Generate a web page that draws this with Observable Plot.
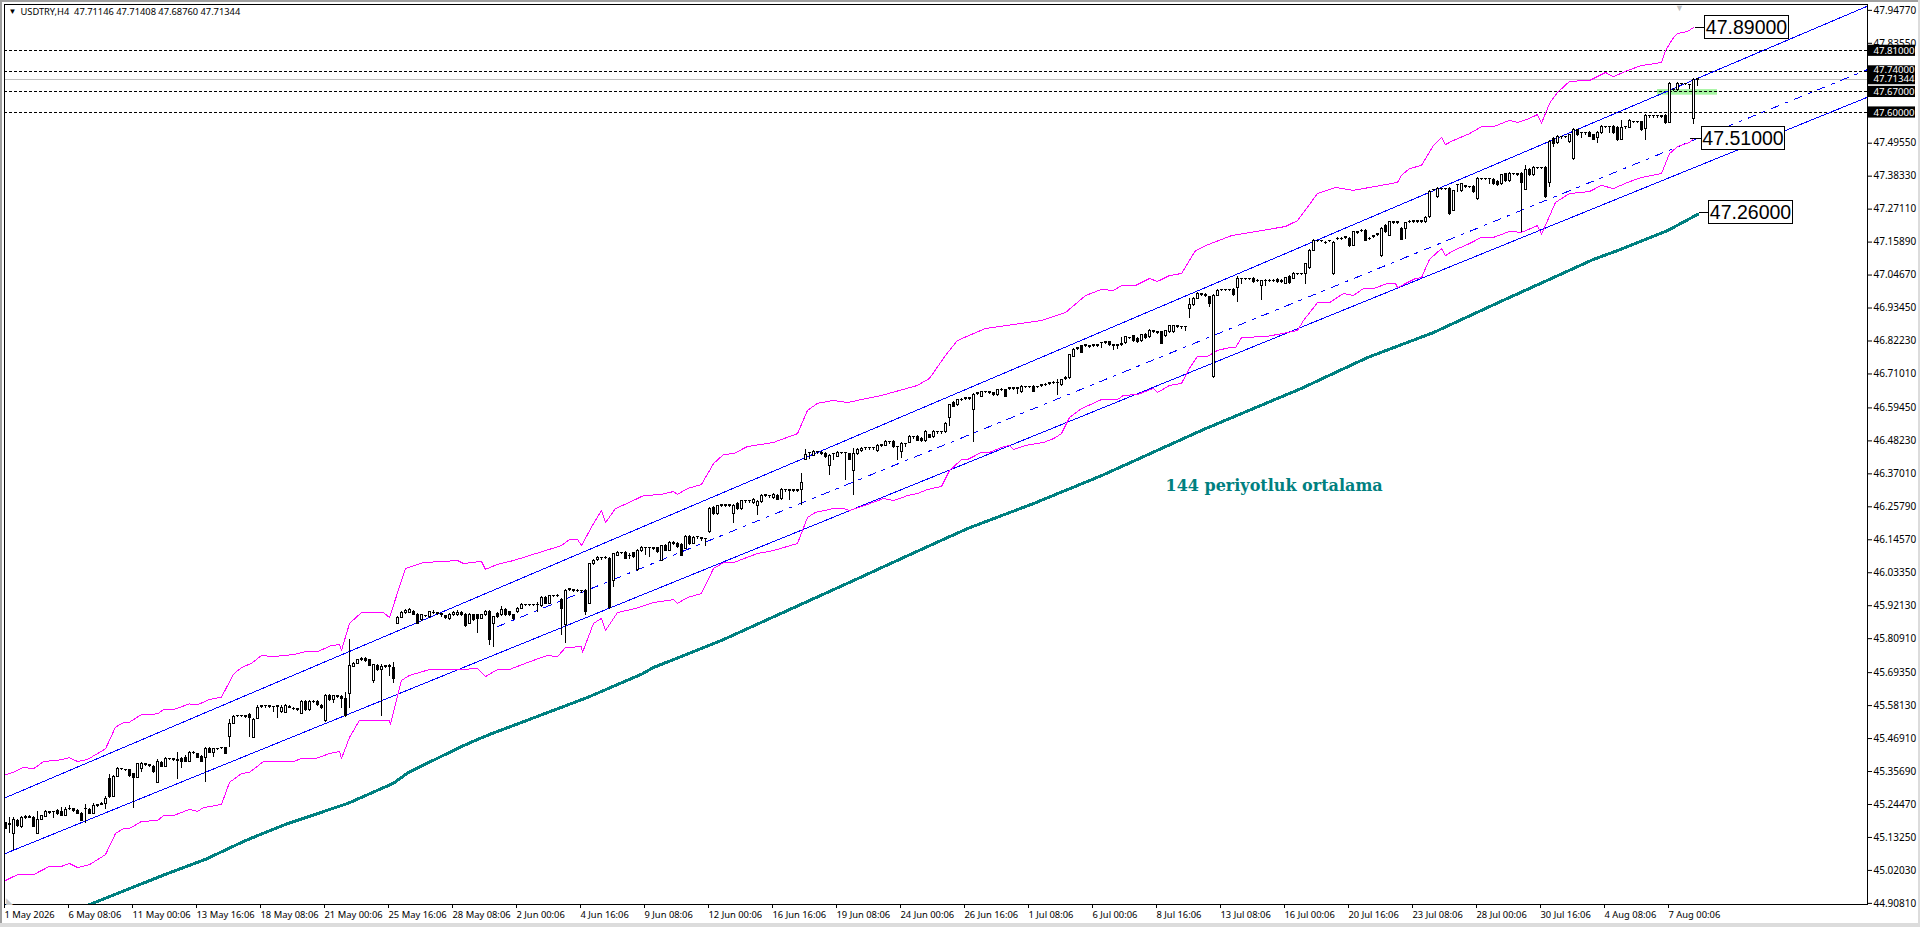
<!DOCTYPE html>
<html><head><meta charset="utf-8">
<script src="https://cdn.jsdelivr.net/npm/d3@7"></script>
<script src="https://cdn.jsdelivr.net/npm/@observablehq/plot@0.6"></script>
<style>
html,body{margin:0;padding:0;background:#fff;overflow:hidden}
#chart{position:relative;width:1920px;height:927px}
.edge{position:absolute;background:#a0a0a0}
</style></head><body><div id="chart"></div>
<script>
const opens=[
45.181,45.179,45.143,45.190,45.168,45.199,45.202,45.200,45.145,45.193,
45.202,45.218,45.219,45.221,45.219,45.207,45.230,45.228,45.222,45.213,
45.230,45.227,45.213,45.240,45.244,45.245,45.332,45.270,45.338,45.366,
45.363,45.361,45.347,45.336,45.365,45.381,45.378,45.372,45.319,45.387,
45.372,45.399,45.399,45.395,45.399,45.403,45.389,45.420,45.415,45.406,
45.403,45.434,45.420,45.434,45.437,45.436,45.474,45.520,45.546,45.546,
45.545,45.550,45.472,45.537,45.579,45.580,45.579,45.576,45.579,45.559,
45.557,45.576,45.571,45.570,45.553,45.593,45.565,45.595,45.595,45.580,
45.528,45.615,45.599,45.613,45.612,45.605,45.621,45.714,45.723,45.735,
45.740,45.735,45.664,45.716,45.703,45.715,45.717,45.710,45.860,45.880,
45.896,45.898,45.899,45.891,45.871,45.887,45.882,45.896,45.895,45.893,
45.885,45.875,45.888,45.888,45.898,45.891,45.860,45.888,45.888,45.877,
45.888,45.900,45.860,45.893,45.888,45.908,45.899,45.888,45.899,45.911,
45.924,45.924,45.925,45.925,45.920,45.948,45.928,45.955,45.956,45.941,
45.856,45.977,45.974,45.973,45.971,45.973,45.928,46.062,46.077,46.083,
46.084,46.081,46.004,46.092,46.102,46.101,46.092,46.100,46.043,46.107,
46.118,46.118,46.117,46.117,46.075,46.126,46.109,46.134,46.132,46.128,
46.115,46.155,46.132,46.155,46.151,46.149,46.172,46.254,46.234,46.263,
46.263,46.263,46.234,46.268,46.251,46.277,46.277,46.270,46.260,46.274,
46.297,46.294,46.288,46.296,46.285,46.316,46.314,46.314,46.314,46.316,
46.418,46.442,46.432,46.444,46.442,46.438,46.398,46.438,46.429,46.442,
46.442,46.436,46.379,46.438,46.447,46.458,46.458,46.458,46.447,46.467,
46.466,46.478,46.478,46.461,46.444,46.472,46.476,46.495,46.495,46.489,
46.481,46.501,46.495,46.512,46.512,46.512,46.560,46.611,46.605,46.623,
46.627,46.627,46.586,46.644,46.633,46.650,46.647,46.644,46.637,46.657,
46.654,46.661,46.661,46.661,46.647,46.667,46.667,46.667,46.667,46.671,
46.674,46.678,46.681,46.681,46.671,46.695,46.695,46.769,46.797,46.804,
46.807,46.804,46.807,46.807,46.815,46.818,46.818,46.807,46.807,46.813,
46.815,46.833,46.838,46.830,46.821,46.844,46.835,46.855,46.852,46.852,
46.839,46.852,46.852,46.872,46.870,46.870,46.930,46.945,46.966,46.981,
46.979,46.971,46.699,46.977,46.997,46.997,46.997,46.997,47.002,47.034,
47.034,47.034,47.034,47.028,47.009,47.028,47.028,47.028,47.030,47.028,
47.017,47.040,47.034,47.051,47.051,47.051,47.071,47.130,47.164,47.164,
47.157,47.164,47.049,47.171,47.171,47.175,47.171,47.147,47.192,47.198,
47.198,47.171,47.178,47.185,47.110,47.215,47.181,47.226,47.226,47.204,
47.204,47.229,47.230,47.230,47.230,47.227,47.244,47.337,47.312,47.341,
47.341,47.340,47.266,47.354,47.332,47.349,47.347,47.346,47.306,47.374,
47.374,47.374,47.371,47.363,47.355,47.389,47.366,47.391,47.389,47.389,
47.337,47.405,47.386,47.412,47.412,47.412,47.359,47.510,47.496,47.516,
47.518,47.499,47.442,47.539,47.530,47.530,47.530,47.522,47.514,47.530,
47.552,47.552,47.552,47.548,47.507,47.550,47.548,47.569,47.569,47.567,
47.544,47.588,47.588,47.588,47.587,47.588,47.565,47.677,47.675,47.698,
47.698,47.695,47.578,47.71146];
const closes=[
45.162,45.176,45.193,45.171,45.200,45.202,45.199,45.168,45.193,45.204,
45.219,45.215,45.218,45.211,45.207,45.227,45.228,45.222,45.213,45.190,
45.229,45.213,45.240,45.242,45.245,45.265,45.270,45.338,45.366,45.365,
45.362,45.340,45.336,45.381,45.383,45.380,45.377,45.355,45.391,45.372,
45.399,45.398,45.397,45.394,45.388,45.389,45.420,45.419,45.404,45.390,
45.434,45.420,45.432,45.433,45.436,45.417,45.520,45.544,45.545,45.545,
45.544,45.540,45.533,45.574,45.578,45.579,45.578,45.575,45.578,45.574,
45.580,45.574,45.569,45.565,45.595,45.565,45.595,45.593,45.582,45.572,
45.615,45.599,45.613,45.612,45.603,45.546,45.717,45.723,45.735,45.740,
45.732,45.717,45.718,45.701,45.714,45.714,45.712,45.672,45.880,45.896,
45.903,45.907,45.890,45.860,45.888,45.886,45.899,45.895,45.894,45.891,
45.880,45.891,45.898,45.898,45.890,45.852,45.891,45.873,45.877,45.889,
45.900,45.805,45.882,45.882,45.908,45.888,45.888,45.877,45.911,45.925,
45.923,45.923,45.924,45.924,45.947,45.928,45.953,45.954,45.955,45.911,
45.971,45.976,45.973,45.972,45.970,45.899,46.062,46.075,46.084,46.082,
46.082,45.912,46.096,46.101,46.101,46.081,46.090,46.086,46.109,46.118,
46.117,46.117,46.116,46.103,46.123,46.109,46.136,46.133,46.120,46.092,
46.155,46.130,46.153,46.154,46.150,46.148,46.251,46.232,46.259,46.262,
46.262,46.262,46.262,46.251,46.277,46.276,46.276,46.282,46.274,46.296,
46.296,46.293,46.299,46.282,46.316,46.315,46.313,46.313,46.313,46.339,
46.433,46.441,46.444,46.443,46.439,46.427,46.432,46.437,46.442,46.441,
46.441,46.418,46.438,46.452,46.456,46.457,46.457,46.457,46.466,46.466,
46.478,46.477,46.461,46.460,46.472,46.471,46.495,46.494,46.483,46.481,
46.514,46.493,46.514,46.511,46.511,46.540,46.603,46.599,46.620,46.622,
46.626,46.626,46.640,46.643,46.647,46.649,46.646,46.637,46.654,46.656,
46.633,46.660,46.660,46.660,46.667,46.666,46.666,46.650,46.666,46.670,
46.673,46.677,46.680,46.680,46.688,46.694,46.773,46.793,46.796,46.783,
46.806,46.803,46.806,46.806,46.814,46.817,46.807,46.806,46.806,46.809,
46.835,46.832,46.822,46.818,46.841,46.832,46.856,46.854,46.851,46.813,
46.855,46.872,46.872,46.871,46.869,46.869,46.945,46.966,46.983,46.978,
46.976,46.949,46.977,46.992,46.996,46.996,46.996,46.979,47.034,47.033,
47.033,47.033,47.023,47.027,47.025,47.027,47.027,47.027,47.023,47.023,
47.036,47.019,47.051,47.050,47.050,47.083,47.130,47.164,47.163,47.163,
47.156,47.163,47.157,47.170,47.170,47.174,47.144,47.192,47.191,47.197,
47.164,47.170,47.177,47.184,47.205,47.192,47.226,47.225,47.225,47.167,
47.223,47.228,47.229,47.229,47.229,47.241,47.331,47.336,47.340,47.340,
47.340,47.255,47.332,47.353,47.355,47.348,47.346,47.329,47.374,47.373,
47.373,47.373,47.357,47.352,47.386,47.366,47.391,47.390,47.388,47.359,
47.403,47.386,47.412,47.411,47.411,47.312,47.499,47.493,47.518,47.515,
47.517,47.522,47.539,47.522,47.529,47.529,47.518,47.507,47.530,47.552,
47.551,47.551,47.530,47.505,47.548,47.549,47.571,47.568,47.568,47.539,
47.588,47.587,47.587,47.587,47.586,47.564,47.698,47.675,47.698,47.697,
47.697,47.694,47.712,47.71344];
const highs=[
45.185,45.202,45.200,45.194,45.204,45.206,45.206,45.204,45.222,45.208,
45.224,45.222,45.219,45.226,45.236,45.234,45.241,45.232,45.226,45.216,
45.245,45.230,45.249,45.246,45.250,45.272,45.347,45.342,45.370,45.366,
45.364,45.364,45.350,45.384,45.387,45.382,45.379,45.376,45.397,45.390,
45.403,45.400,45.400,45.420,45.403,45.412,45.424,45.424,45.419,45.410,
45.440,45.438,45.436,45.436,45.439,45.440,45.533,45.548,45.547,45.547,
45.546,45.554,45.537,45.582,45.580,45.581,45.580,45.577,45.581,45.582,
45.584,45.580,45.574,45.573,45.599,45.597,45.599,45.598,45.599,45.584,
45.619,45.619,45.617,45.615,45.615,45.627,45.806,45.727,45.739,45.745,
45.744,45.739,45.722,45.720,45.720,45.717,45.720,45.729,45.884,45.900,
45.907,45.911,45.906,45.895,45.892,45.889,45.903,45.905,45.897,45.896,
45.889,45.895,45.902,45.905,45.902,45.895,45.895,45.892,45.892,45.893,
45.904,45.905,45.886,45.897,45.918,45.912,45.903,45.892,45.915,45.929,
45.926,45.926,45.927,45.933,45.951,45.952,45.957,45.957,45.958,45.945,
45.975,45.979,45.976,45.975,45.973,45.977,46.066,46.079,46.088,46.085,
46.088,46.087,46.100,46.105,46.104,46.105,46.100,46.104,46.113,46.122,
46.120,46.120,46.119,46.121,46.127,46.130,46.140,46.140,46.136,46.132,
46.159,46.159,46.157,46.157,46.153,46.151,46.255,46.258,46.263,46.265,
46.265,46.265,46.266,46.272,46.281,46.279,46.279,46.286,46.278,46.300,
46.299,46.296,46.303,46.300,46.320,46.318,46.316,46.316,46.316,46.370,
46.452,46.444,46.448,46.446,46.446,46.442,46.436,46.440,46.446,46.444,
46.444,46.440,46.457,46.456,46.460,46.460,46.460,46.460,46.470,46.469,
46.482,46.481,46.482,46.463,46.476,46.474,46.499,46.497,46.499,46.493,
46.518,46.505,46.518,46.514,46.514,46.544,46.607,46.615,46.624,46.625,
46.629,46.629,46.644,46.646,46.651,46.652,46.649,46.648,46.658,46.659,
46.658,46.664,46.663,46.664,46.671,46.669,46.669,46.671,46.669,46.673,
46.676,46.680,46.683,46.690,46.692,46.700,46.777,46.797,46.799,46.808,
46.809,46.806,46.809,46.809,46.818,46.820,46.822,46.809,46.809,46.835,
46.839,46.835,46.842,46.834,46.845,46.848,46.860,46.857,46.854,46.856,
46.859,46.876,46.876,46.874,46.872,46.872,46.966,46.970,46.987,46.984,
46.983,46.975,46.980,46.996,46.999,46.999,46.999,47.001,47.042,47.036,
47.036,47.036,47.038,47.030,47.029,47.030,47.030,47.030,47.034,47.032,
47.040,47.044,47.055,47.053,47.053,47.087,47.134,47.168,47.166,47.166,
47.160,47.166,47.161,47.174,47.174,47.178,47.175,47.196,47.194,47.201,
47.202,47.174,47.180,47.188,47.209,47.219,47.230,47.228,47.228,47.208,
47.227,47.231,47.232,47.232,47.232,47.245,47.335,47.339,47.344,47.343,
47.343,47.344,47.336,47.356,47.359,47.351,47.349,47.350,47.378,47.376,
47.376,47.376,47.375,47.367,47.390,47.393,47.395,47.393,47.391,47.397,
47.420,47.409,47.416,47.414,47.414,47.416,47.503,47.514,47.522,47.518,
47.520,47.526,47.544,47.543,47.532,47.532,47.534,47.526,47.534,47.556,
47.554,47.554,47.556,47.552,47.573,47.552,47.575,47.571,47.571,47.571,
47.592,47.590,47.590,47.590,47.589,47.592,47.702,47.681,47.702,47.700,
47.700,47.697,47.716,47.71408];
const lows=[
45.158,45.145,45.088,45.168,45.164,45.195,45.196,45.165,45.145,45.190,
45.200,45.212,45.196,45.208,45.203,45.203,45.225,45.218,45.210,45.187,
45.179,45.210,45.210,45.236,45.240,45.227,45.266,45.267,45.335,45.360,
45.357,45.337,45.230,45.333,45.355,45.375,45.370,45.351,45.316,45.369,
45.370,45.393,45.390,45.331,45.366,45.386,45.386,45.414,45.400,45.387,
45.321,45.417,45.406,45.430,45.433,45.414,45.438,45.516,45.540,45.540,
45.538,45.472,45.468,45.533,45.572,45.573,45.572,45.559,45.536,45.556,
45.553,45.570,45.565,45.561,45.550,45.561,45.561,45.589,45.578,45.568,
45.524,45.596,45.587,45.607,45.570,45.542,45.570,45.710,45.720,45.732,
45.728,45.713,45.658,45.697,45.545,45.708,45.680,45.658,45.856,45.877,
45.893,45.895,45.887,45.856,45.868,45.880,45.879,45.890,45.888,45.880,
45.876,45.871,45.884,45.884,45.886,45.848,45.856,45.869,45.826,45.873,
45.884,45.785,45.780,45.878,45.884,45.884,45.884,45.870,45.895,45.907,
45.917,45.917,45.918,45.899,45.916,45.924,45.924,45.948,45.949,45.820,
45.792,45.970,45.967,45.966,45.964,45.888,45.925,46.058,46.073,46.076,
46.078,45.907,45.983,46.088,46.095,46.077,46.080,46.082,46.039,46.103,
46.092,46.086,46.110,46.099,46.071,46.105,46.105,46.127,46.116,46.088,
46.111,46.126,46.128,46.148,46.140,46.123,46.168,46.228,46.230,46.256,
46.256,46.256,46.200,46.247,46.247,46.270,46.270,46.266,46.228,46.270,
46.290,46.287,46.284,46.278,46.281,46.307,46.280,46.306,46.306,46.262,
46.414,46.418,46.428,46.437,46.432,46.423,46.364,46.415,46.425,46.435,
46.347,46.414,46.296,46.434,46.443,46.451,46.451,46.451,46.443,46.460,
46.462,46.471,46.457,46.416,46.421,46.461,46.472,46.488,46.479,46.477,
46.477,46.489,46.491,46.505,46.505,46.508,46.531,46.595,46.601,46.616,
46.620,46.620,46.478,46.637,46.629,46.643,46.640,46.633,46.633,46.650,
46.629,46.654,46.654,46.640,46.643,46.660,46.660,46.646,46.660,46.664,
46.667,46.671,46.674,46.637,46.667,46.688,46.691,46.765,46.790,46.779,
46.800,46.797,46.800,46.800,46.796,46.811,46.803,46.790,46.792,46.805,
46.811,46.826,46.818,46.814,46.817,46.828,46.831,46.848,46.845,46.809,
46.835,46.848,46.848,46.865,46.863,46.856,46.900,46.941,46.962,46.974,
46.972,46.937,46.695,46.973,46.990,46.990,46.990,46.975,46.954,47.015,
47.027,47.027,47.019,47.021,46.960,47.009,47.021,47.021,47.019,47.019,
47.013,47.015,47.030,47.044,47.044,47.013,47.067,47.126,47.157,47.157,
47.150,47.157,47.045,47.164,47.164,47.168,47.140,47.143,47.185,47.191,
47.160,47.164,47.171,47.178,47.106,47.188,47.177,47.219,47.219,47.163,
47.167,47.222,47.223,47.223,47.223,47.223,47.240,47.330,47.308,47.334,
47.334,47.251,47.262,47.329,47.328,47.342,47.340,47.325,47.302,47.367,
47.367,47.355,47.353,47.348,47.351,47.362,47.362,47.384,47.382,47.193,
47.333,47.382,47.382,47.405,47.405,47.308,47.346,47.480,47.492,47.509,
47.511,47.495,47.438,47.518,47.510,47.523,47.514,47.503,47.496,47.526,
47.545,47.530,47.526,47.501,47.503,47.543,47.544,47.562,47.562,47.535,
47.505,47.581,47.581,47.581,47.580,47.560,47.561,47.671,47.671,47.691,
47.691,47.677,47.558,47.6876];

const upperBars=[0,2,4.5,7,9.5,14,16,18,20.5,25,27.5,29.5,31,34,38,39.5,42,46,48,51,54,57,59,61.5,64,67,72,75,78,81.5,83.5,84,86,89,91,94.5,96,99,100,104.5,113,114.5,119,120,123,127,139,141,143,144,147,149,150,152.5,156,159.5,164,167,168,170.5,174,177,179.5,182,185.5,192,196,198,200.5,203,207,210.5,219,228,231,235,238,245,259,265,270,274,277,279,282.5,286,288,291,294,297.5,300,306.5,320,323,328,332.5,337,348,349,351,354,357,359,360,362,366,369,372,376,378,381,383,384,386,388,391,396,400,402,405.5,409,414,415,417,418,420.5,422];
const upperVals=[45.346,45.354,45.371,45.366,45.391,45.397,45.404,45.391,45.398,45.434,45.508,45.523,45.525,45.551,45.553,45.568,45.568,45.587,45.584,45.602,45.610,45.688,45.711,45.725,45.752,45.748,45.755,45.765,45.765,45.786,45.789,45.769,45.861,45.898,45.898,45.898,45.881,46.007,46.048,46.068,46.075,46.065,46.072,46.045,46.062,46.075,46.126,46.147,46.147,46.126,46.201,46.245,46.204,46.252,46.273,46.296,46.300,46.310,46.300,46.320,46.334,46.405,46.436,46.439,46.463,46.477,46.497,46.507,46.586,46.610,46.620,46.613,46.637,46.671,46.695,46.773,46.824,46.865,46.892,46.919,46.977,46.998,46.994,47.011,47.011,47.035,47.025,47.045,47.052,47.130,47.147,47.181,47.212,47.232,47.324,47.345,47.335,47.362,47.386,47.409,47.420,47.488,47.515,47.491,47.505,47.528,47.552,47.552,47.573,47.566,47.580,47.593,47.563,47.631,47.668,47.706,47.709,47.736,47.722,47.743,47.760,47.770,47.811,47.855,47.869,47.876,47.889];
const lowerBars=[0,3,7,11,14,16,18,21,25,27.5,29.5,31,34,38,39.5,42,46,48,49.5,54,56,59,61,64.5,72,74,77.5,81,83.5,84,86,88.5,96,96.25,99,101,106,114,118,120,123,126,130.5,135.5,138,140,144,144.25,147,149,150,153,157.5,162,167,168,170.5,174,177,179.5,182,188,192,195.5,198,200.5,202.5,207,209.5,211,215.5,219.5,222,225.5,228,230.5,234,236,239,240.5,244,246,249,251,252,255,259.5,262,264,266,269,274,278,279.5,283,287,288,291,294,296,298,300.5,303,306,307.5,309,315.5,323,324.5,328,331,334.5,337,339.5,342,345.5,347.5,348,352.5,354,356,359,360,362,366,369,372,376,379,383,384,387.5,391,396,399,402,405.5,409,414,416,418,421,422];
const lowerVals=[44.986,45.006,45.006,45.034,45.034,45.044,45.030,45.040,45.074,45.146,45.163,45.163,45.187,45.190,45.207,45.207,45.228,45.221,45.234,45.245,45.320,45.350,45.354,45.391,45.391,45.401,45.401,45.418,45.425,45.401,45.473,45.531,45.531,45.517,45.667,45.684,45.704,45.704,45.708,45.680,45.704,45.704,45.728,45.752,45.748,45.779,45.782,45.762,45.861,45.878,45.837,45.898,45.912,45.932,45.942,45.929,45.949,45.963,46.048,46.068,46.068,46.099,46.109,46.123,46.133,46.222,46.239,46.252,46.252,46.245,46.266,46.286,46.279,46.296,46.303,46.317,46.327,46.381,46.419,46.419,46.443,46.443,46.460,46.467,46.453,46.467,46.477,46.490,46.507,46.562,46.592,46.623,46.623,46.637,46.640,46.661,46.647,46.671,46.678,46.729,46.770,46.770,46.790,46.800,46.800,46.834,46.838,46.858,46.892,46.953,46.953,46.984,46.977,47.001,47.001,47.018,47.018,47.004,47.035,47.038,47.100,47.137,47.113,47.130,47.154,47.175,47.175,47.195,47.192,47.215,47.185,47.294,47.324,47.331,47.352,47.341,47.362,47.379,47.392,47.460,47.484,47.498,47.512];
const maBars=[21,40,50,60,70,85.5,97,100.75,114,118,121,129,145.5,159,162,179,212.5,224,240.5,257,274,299.5,324,340.5,357,374,397,403,415.5,423];
const maVals=[44.904,45.007,45.058,45.122,45.177,45.248,45.317,45.354,45.442,45.466,45.483,45.524,45.609,45.688,45.711,45.803,46.010,46.082,46.184,46.269,46.364,46.521,46.661,46.766,46.851,46.958,47.100,47.130,47.198,47.253];

const channelBars=[0,465.5];
const channelUpper=[45.268,47.962];
const channelLower=[45.078,47.652];
const regressionBars=[123,465.5];
const regressionVals=[45.850,47.746];
const levels=[47.81,47.74,47.67,47.60];
const lastPrice=47.71344;
const priceTags=[47.81,47.74,47.71344,47.67,47.60];
const zoneBars=[413,428];
const zoneVals=[47.659,47.678];
const calloutVals=[47.89,47.51,47.26];
const calloutFrom=[422.25,421,423.25];
const calloutLeft=[424.75,424,425.75];
const calloutRight=[445.75,444.75,446.75];
const yTicks=[47.9477,47.8355,47.4955,47.3833,47.2711,47.1589,47.0467,46.9345,46.8223,46.7101,46.5945,46.4823,46.3701,46.2579,46.1457,46.0335,45.9213,45.8091,45.6935,45.5813,45.4691,45.3569,45.2447,45.1325,45.0203,44.9081];
const xLabels=["1 May 2026","6 May 08:06","11 May 00:06","13 May 16:06","18 May 08:06","21 May 00:06","25 May 16:06","28 May 08:06","2 Jun 00:06","4 Jun 16:06","9 Jun 08:06","12 Jun 00:06","16 Jun 16:06","19 Jun 08:06","24 Jun 00:06","26 Jun 16:06","1 Jul 08:06","6 Jul 00:06","8 Jul 16:06","13 Jul 08:06","16 Jul 00:06","20 Jul 16:06","23 Jul 08:06","28 Jul 00:06","30 Jul 16:06","4 Aug 08:06","7 Aug 00:06"];
const xTickBars=xLabels.map((_,k)=>k*16);

const uiFont="'Noto Sans',sans-serif";
const bars=opens.map((o,i)=>({i,o,c:closes[i],h:highs[i],l:lows[i]}));
const zip=(xs,ys)=>xs.map((x,k)=>({x,y:ys[k]}));
const callouts=calloutVals.map((v,k)=>({v,from:calloutFrom[k],left:calloutLeft[k],right:calloutRight[k]}));
const crisp={shapeRendering:"crispEdges"};

const chart=Plot.plot({
  width:1920,height:927,
  marginLeft:4,marginRight:53,marginTop:4,marginBottom:23,
  style:{background:"transparent",fontFamily:uiFont,overflow:"visible"},
  x:{type:"linear",domain:[-0.25,465.5]},
  y:{type:"linear",domain:[44.9043,47.9676]},
  marks:[
    Plot.rect([0],{x1:zoneBars[0],x2:zoneBars[1],y1:zoneVals[0],y2:zoneVals[1],fill:"#a4f5a0"}),
    Plot.ruleY([lastPrice],{stroke:"#c0c0c0",strokeWidth:1,...crisp}),
    Plot.ruleY(levels,{stroke:"black",strokeWidth:1,strokeDasharray:"3,2",...crisp}),
    Plot.line(zip(channelBars,channelUpper),{x:"x",y:"y",stroke:"#0000ff",strokeWidth:1,...crisp}),
    Plot.line(zip(channelBars,channelLower),{x:"x",y:"y",stroke:"#0000ff",strokeWidth:1,...crisp}),
    Plot.line(zip(regressionBars,regressionVals),{x:"x",y:"y",stroke:"#0000ff",strokeWidth:1,strokeDasharray:"8,7,3,7",...crisp}),
    Plot.line(zip(upperBars,upperVals),{x:"x",y:"y",stroke:"#ff00ff",strokeWidth:1,...crisp}),
    Plot.line(zip(lowerBars,lowerVals),{x:"x",y:"y",stroke:"#ff00ff",strokeWidth:1,...crisp}),
    Plot.line(zip(maBars,maVals),{x:"x",y:"y",stroke:"#008080",strokeWidth:3,clip:true,...crisp}),
    Plot.ruleX(bars,{x:"i",y1:"l",y2:"h",stroke:"black",strokeWidth:1,...crisp}),
    Plot.rect(bars,{x1:d=>d.i-0.25,x2:d=>d.i+0.25,y1:"o",y2:"c",fill:"white",stroke:"black",strokeWidth:1,filter:d=>d.c>=d.o,...crisp}),
    Plot.rect(bars,{x1:d=>d.i-0.25,x2:d=>d.i+0.25,y1:"o",y2:"c",fill:"black",stroke:"black",strokeWidth:1,filter:d=>d.c<d.o,...crisp}),
    Plot.link(callouts,{x1:"from",x2:"left",y1:"v",y2:"v",stroke:"black",strokeWidth:1,...crisp}),
    Plot.rect(callouts,{x1:"left",x2:"right",y1:d=>d.v-0.039,y2:d=>d.v+0.039,fill:"white",stroke:"black",strokeWidth:1,...crisp}),
    Plot.text(callouts,{x:d=>(d.left+d.right)/2,y:"v",text:d=>d.v.toFixed(5),fill:"black",fontSize:19.5,fontFamily:"'Liberation Sans',sans-serif",textAnchor:"middle"}),
    Plot.text(["144 periyotluk ortalama"],{x:290,y:46.33,text:d=>d,fill:"#008080",fontSize:16,fontWeight:"bold",fontFamily:"'DejaVu Serif',serif",textAnchor:"start"}),
    Plot.frame({stroke:"black",strokeWidth:1}),
    Plot.axisX({ticks:xTickBars,tickFormat:i=>xLabels[i/16],anchor:"bottom",tickSize:4,tickPadding:3,textAnchor:"start",fontSize:9.4,dx:-1,label:null}),
    Plot.axisY({ticks:yTicks,tickFormat:d=>d.toFixed(5),anchor:"right",tickSize:4,tickPadding:2,fontSize:10,label:null}),
    Plot.rect(priceTags,{x1:465.75,x2:477.5,y1:d=>d-0.019,y2:d=>d+0.019,fill:"black"}),
    Plot.text(priceTags,{x:467,y:d=>d===47.74?d+0.005:d,text:d=>d.toFixed(5),fill:"white",fontSize:9.6,textAnchor:"start"}),
    Plot.text(["USDTRY,H4\u00a0\u00a047.71146 47.71408 47.68760 47.71344"],{frameAnchor:"top-left",dx:16,dy:4,fill:"black",fontSize:9.3,textAnchor:"start"}),
    Plot.text(["▼"],{frameAnchor:"top-left",dx:4,dy:4,fill:"black",fontSize:8,textAnchor:"start"}),
    Plot.text(["▼"],{x:418.5,frameAnchor:"top",dy:0,fill:"#c0c0c0",fontSize:9}),
    Plot.text(["◣"],{frameAnchor:"bottom-left",dx:1,dy:-1,fill:"#c8c8c8",fontSize:9,textAnchor:"start"})
  ]
});
const host=document.getElementById("chart");
host.appendChild(chart);
[["0","0","2px","927px"],["0","0","1920px","2px"],["0","923px","1920px","4px"],["1918px","0","2px","927px"]].forEach(([l,t,w,h])=>{
  const d=document.createElement("div");d.className="edge";d.style.cssText=`left:${l};top:${t};width:${w};height:${h};background:#dcdcdc`;
  if(w==="2px"&&l==="0"||h==="2px")d.style.background="#a0a0a0";
  host.appendChild(d);
});
</script></body></html>
